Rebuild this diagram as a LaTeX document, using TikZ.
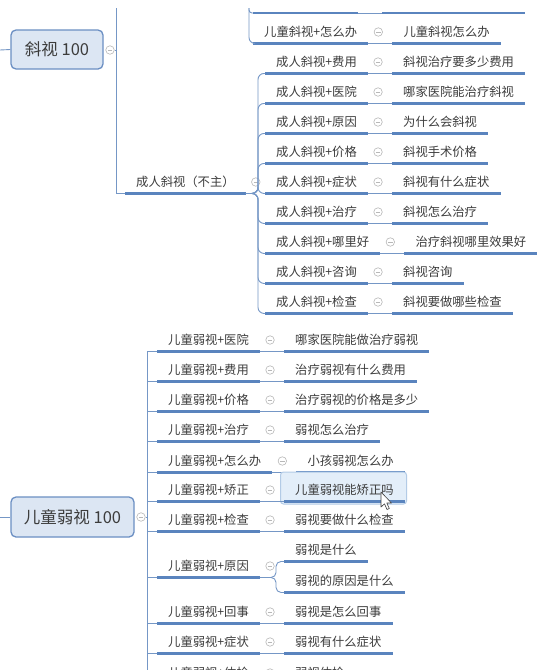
\documentclass[tikz,border=0pt]{standalone}
\usepackage{fontspec}
\newfontfamily\cjk{Noto Sans CJK SC}
\definecolor{txt}{HTML}{3C3C3C}
\definecolor{ublue}{HTML}{5A84BE}
\definecolor{cblue}{HTML}{7597C6}
\definecolor{foldgray}{HTML}{B8B8B8}
\definecolor{rootfill}{HTML}{DCE6F3}
\definecolor{rootdraw}{HTML}{6B8FC3}
\definecolor{selfill}{HTML}{E3EEF9}
\definecolor{seldraw}{HTML}{B3CBE6}
\tikzset{
  topic/.style={font=\cjk\fontsize{12.3}{14}\selectfont, text=txt, anchor=west,
    inner xsep=11pt, inner ysep=0pt, text height=9.8pt, text depth=0.4pt, minimum height=22.5pt},
  rootbox/.style={font=\cjk\fontsize{16.5}{19}\selectfont, text=txt, draw=rootdraw, fill=rootfill,
    line width=1.3pt, rounded corners=5pt, inner sep=0pt, text height=12.5pt, text depth=0.3pt},
  foldmark/.style={circle, draw=foldgray, line width=0.6pt, minimum size=8.5pt, inner sep=0pt,
    path picture={\draw[foldgray, line width=0.6pt] ([xshift=-2.2pt]path picture bounding box.center) -- ([xshift=2.2pt]path picture bounding box.center);}},
  uline/.style={draw=ublue, line width=2.5pt},
  conn/.style={draw=cblue, line width=0.9pt},
  selbox/.style={draw=seldraw, fill=selfill, line width=1pt, rounded corners=3pt,
    minimum width=126pt, minimum height=32pt, inner sep=0pt}
}
\newcommand\leafrow[5]{%
  \node[topic] (#1a) at (#2,#3) {#4};
  \node[foldmark] (#1f) at ([xshift=10pt]#1a.east) {};
  \node[topic] (#1b) at ([xshift=14pt]#1f.center) {#5};
  \draw[uline] (#1a.south west) -- (#1a.south east);
  \draw[conn] (#1a.south east) -- (#1b.south west);
  \draw[uline] (#1b.south west) -- (#1b.south east);
}
\begin{document}
\begin{tikzpicture}[x=1pt, y=-1pt]
\useasboundingbox (0,0) rectangle (542,670);
\fill[white] (0,0) rectangle (542,670);
\clip (0,0) rectangle (542,670);

% ---------- top part (儿童斜视 group, partly off view) ----------
\coordinate (t0a) at (253,13);
\coordinate (t0b) at (358,13);
\coordinate (t0c) at (382,13);
\coordinate (t0d) at (525,13);
\draw[uline] (t0a) -- (t0b);
\draw[conn] (t0b) -- (t0c);
\draw[uline] (t0c) -- (t0d);
\leafrow{kz}{253}{32}{儿童斜视+怎么办}{儿童斜视怎么办}
\coordinate (ktop) at (249,8);
\draw[conn, rounded corners=3pt] (ktop) |- (t0a);
\draw[conn, rounded corners=6pt] (ktop) |- (kza.south west);

% ---------- root 斜视 100 ----------
\node[rootbox, minimum width=92pt, minimum height=39pt] (xs) at (57,49.5) {斜视 100};
\node[foldmark] (xsf) at (110,50) {};
\coordinate (xsin) at (0,50);
\draw[conn] (xsin) -- (xs.west);
\coordinate (xsbus) at (116,8);
\coordinate (xsj) at (116,50);
\draw[conn] (xsf.east) -- (xsj);

% 成人斜视（不主）
\node[topic] (cr) at (125,182) {成人斜视（不主）};
\draw[uline] (cr.south west) -- (cr.south east);
\node[foldmark] (crf) at ([xshift=10pt]cr.east) {};
\draw[conn] (xsbus) |- (cr.south west);

\leafrow{a1}{265}{62}{成人斜视+费用}{斜视治疗要多少费用}
\leafrow{a2}{265}{92}{成人斜视+医院}{哪家医院能治疗斜视}
\leafrow{a3}{265}{122}{成人斜视+原因}{为什么会斜视}
\leafrow{a4}{265}{152}{成人斜视+价格}{斜视手术价格}
\leafrow{a5}{265}{182}{成人斜视+症状}{斜视有什么症状}
\leafrow{a6}{265}{212}{成人斜视+治疗}{斜视怎么治疗}
\leafrow{a7}{265}{242}{成人斜视+哪里好}{治疗斜视哪里效果好}
\leafrow{a8}{265}{272}{成人斜视+咨询}{斜视咨询}
\leafrow{a9}{265}{302}{成人斜视+检查}{斜视要做哪些检查}
\foreach \nm in {a1,a2,a3,a4,a5,a6,a7,a8,a9}
  \draw[conn, rounded corners=6pt] (cr.south east) -| ([xshift=-7pt]\nm a.south west) -- (\nm a.south west);

% ---------- root 儿童弱视 100 ----------
\node[rootbox, minimum width=123pt, minimum height=40pt] (rs) at (72.5,517) {儿童弱视 100};
\node[foldmark] (rsf) at (141,517) {};
\coordinate (rsin) at (0,517);
\draw[conn] (rsin) -- (rs.west);
\coordinate (rsj) at (147,517);
\coordinate (rsbus) at (147,675);
\draw[conn] (rsf.east) -- (rsj);
\draw[conn] (rsj) -- (rsbus);

\leafrow{c1}{157}{340}{儿童弱视+医院}{哪家医院能做治疗弱视}
\leafrow{c2}{157}{370}{儿童弱视+费用}{治疗弱视有什么费用}
\leafrow{c3}{157}{400}{儿童弱视+价格}{治疗弱视的价格是多少}
\leafrow{c4}{157}{430}{儿童弱视+治疗}{弱视怎么治疗}
\leafrow{c5}{157}{461}{儿童弱视+怎么办}{小孩弱视怎么办}
\node[selbox] (sel) at (343.5,488) {};
\leafrow{c6}{157}{490}{儿童弱视+矫正}{儿童弱视能矫正吗}
\leafrow{c7}{157}{520}{儿童弱视+检查}{弱视要做什么检查}

\node[topic] (c8a) at (157,566) {儿童弱视+原因};
\node[foldmark] (c8f) at ([xshift=10pt]c8a.east) {};
\node[topic] (c8b) at ([xshift=14pt, yshift=16pt]c8f.center) {弱视是什么};
\node[topic] (c8c) at ([xshift=14pt, yshift=-15pt]c8f.center) {弱视的原因是什么};
\draw[uline] (c8a.south west) -- (c8a.south east);
\draw[uline] (c8b.south west) -- (c8b.south east);
\draw[uline] (c8c.south west) -- (c8c.south east);
\draw[conn, rounded corners=5pt] (c8a.south east) -| ([xshift=-8pt]c8b.south west) -- (c8b.south west);
\draw[conn, rounded corners=5pt] (c8a.south east) -| ([xshift=-8pt]c8c.south west) -- (c8c.south west);

\leafrow{c9}{157}{612}{儿童弱视+回事}{弱视是怎么回事}
\leafrow{c10}{157}{642}{儿童弱视+症状}{弱视有什么症状}
\leafrow{c11}{157}{673}{儿童弱视+体检}{弱视体检}

\foreach \nm in {c1,c2,c3,c4,c5,c6,c7,c8,c9,c10,c11}
  \draw[conn] (rsj) |- (\nm a.south west);

% mouse pointer
\draw[fill=white, draw=black!75, line width=0.6pt, line join=round]
  (381,492) -- (381,507) -- (384.5,503.8) -- (387,509.5) -- (389.3,508.5) -- (386.8,503) -- (391.5,503) -- cycle;
\end{tikzpicture}
\end{document}
